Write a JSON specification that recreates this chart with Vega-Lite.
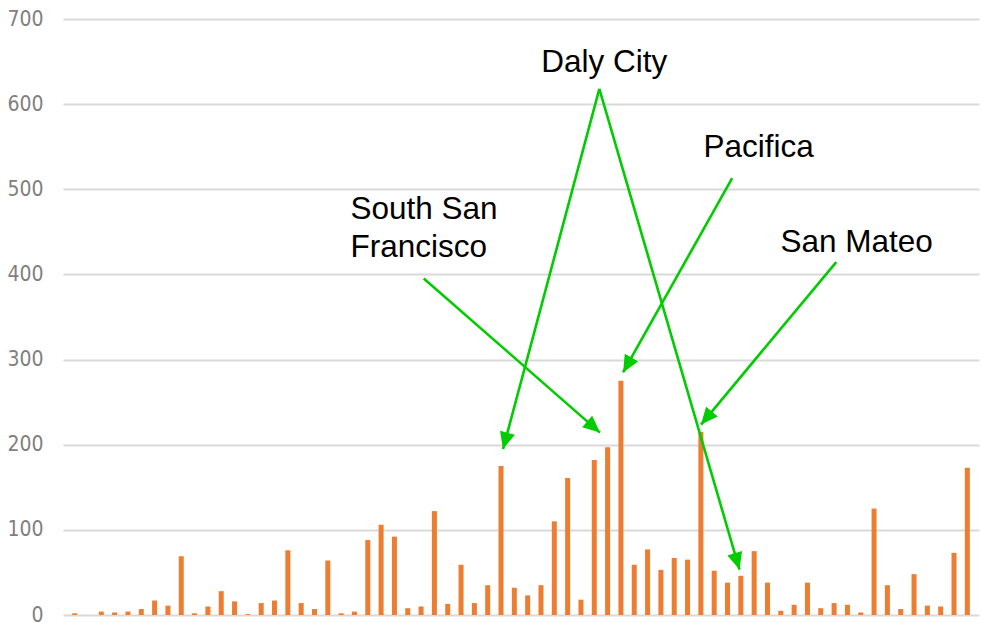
{
  "$schema": "https://vega.github.io/schema/vega-lite/v6.json",
  "width": 916,
  "height": 596,
  "autosize": {"type": "none"},
  "padding": {"left": 63, "top": 19, "right": 4, "bottom": 8},
  "background": "white",
  "config": {"view": {"stroke": null}},
  "datasets": {
    "bars": [
      {"i":1,"v":2},{"i":2,"v":0},{"i":3,"v":4},{"i":4,"v":3},{"i":5,"v":4},{"i":6,"v":7},{"i":7,"v":17},{"i":8,"v":11},{"i":9,"v":69},{"i":10,"v":2},
      {"i":11,"v":10},{"i":12,"v":28},{"i":13,"v":16},{"i":14,"v":1},{"i":15,"v":14},{"i":16,"v":17},{"i":17,"v":76},{"i":18,"v":14},{"i":19,"v":7},{"i":20,"v":64},
      {"i":21,"v":2},{"i":22,"v":4},{"i":23,"v":88},{"i":24,"v":106},{"i":25,"v":92},{"i":26,"v":8},{"i":27,"v":10},{"i":28,"v":122},{"i":29,"v":13},{"i":30,"v":59},
      {"i":31,"v":14},{"i":32,"v":35},{"i":33,"v":175},{"i":34,"v":32},{"i":35,"v":23},{"i":36,"v":35},{"i":37,"v":110},{"i":38,"v":161},{"i":39,"v":18},{"i":40,"v":182},
      {"i":41,"v":197},{"i":42,"v":275},{"i":43,"v":59},{"i":44,"v":77},{"i":45,"v":53},{"i":46,"v":67},{"i":47,"v":65},{"i":48,"v":215},{"i":49,"v":52},{"i":50,"v":38},
      {"i":51,"v":46},{"i":52,"v":75},{"i":53,"v":38},{"i":54,"v":5},{"i":55,"v":12},{"i":56,"v":38},{"i":57,"v":8},{"i":58,"v":14},{"i":59,"v":12},{"i":60,"v":3},
      {"i":61,"v":125},{"i":62,"v":35},{"i":63,"v":7},{"i":64,"v":48},{"i":65,"v":11},{"i":66,"v":10},{"i":67,"v":73},{"i":68,"v":173}
    ],
    "arrows": [
      {"name":"Daly City L","x1":40.38,"y1":617.9,"x2":33.15,"y2":194.8},
      {"name":"Daly City R","x1":40.38,"y1":617.9,"x2":50.90,"y2":53.4},
      {"name":"Pacifica","x1":50.35,"y1":513.1,"x2":42.16,"y2":284.9},
      {"name":"South San Francisco","x1":27.20,"y1":395.3,"x2":40.43,"y2":214.2},
      {"name":"San Mateo","x1":58.16,"y1":414.5,"x2":48.01,"y2":223.6}
    ],
    "centerLabels": [
      {"text":"Daly City","x":40.75,"y":638.2},
      {"text":"Pacifica","x":52.34,"y":538.4},
      {"text":"San Mateo","x":59.69,"y":425.8}
    ],
    "leftLabels": [
      {"text":"South San","x":21.7,"y":465.0},
      {"text":"Francisco","x":21.7,"y":420.4}
    ]
  },
  "layer": [
    {
      "data": {"name": "bars"},
      "mark": {"type": "bar", "width": 5, "color": "#ED7D31"},
      "encoding": {
        "x": {"field": "i", "type": "quantitative", "scale": {"domain": [0.5, 68.5], "nice": false, "zero": false}, "axis": null},
        "y": {"field": "v", "type": "quantitative", "scale": {"domain": [0, 700], "nice": false},
          "axis": {"values": [0,100,200,300,400,500,600,700], "grid": true, "gridColor": "#d9d9d9", "gridWidth": 2,
            "domain": false, "ticks": false, "labelPadding": 20, "labelFont": "DejaVu Sans Condensed",
            "labelFontSize": 21, "labelColor": "#7f7f7f", "title": null}}
      }
    },
    {
      "data": {"name": "arrows"},
      "mark": {"type": "rule", "color": "#00cc00", "strokeWidth": 2.6},
      "encoding": {
        "x": {"field": "x1", "type": "quantitative"},
        "y": {"field": "y1", "type": "quantitative"},
        "x2": {"field": "x2"},
        "y2": {"field": "y2"}
      }
    },
    {
      "data": {"name": "arrows"},
      "transform": [{"filter": "datum.name == 'Daly City L'"}],
      "mark": {"type": "point", "shape": "M0,0L0.45,1L-0.45,1Z", "size": 1156, "filled": true, "opacity": 1, "color": "#00cc00", "angle": 195.1},
      "encoding": {"x": {"field": "x2", "type": "quantitative"}, "y": {"field": "y2", "type": "quantitative"}}
    },
    {
      "data": {"name": "arrows"},
      "transform": [{"filter": "datum.name == 'Daly City R'"}],
      "mark": {"type": "point", "shape": "M0,0L0.45,1L-0.45,1Z", "size": 1156, "filled": true, "opacity": 1, "color": "#00cc00", "angle": 163.6},
      "encoding": {"x": {"field": "x2", "type": "quantitative"}, "y": {"field": "y2", "type": "quantitative"}}
    },
    {
      "data": {"name": "arrows"},
      "transform": [{"filter": "datum.name == 'Pacifica'"}],
      "mark": {"type": "point", "shape": "M0,0L0.45,1L-0.45,1Z", "size": 1156, "filled": true, "opacity": 1, "color": "#00cc00", "angle": 209.6},
      "encoding": {"x": {"field": "x2", "type": "quantitative"}, "y": {"field": "y2", "type": "quantitative"}}
    },
    {
      "data": {"name": "arrows"},
      "transform": [{"filter": "datum.name == 'South San Francisco'"}],
      "mark": {"type": "point", "shape": "M0,0L0.45,1L-0.45,1Z", "size": 1156, "filled": true, "opacity": 1, "color": "#00cc00", "angle": 130.9},
      "encoding": {"x": {"field": "x2", "type": "quantitative"}, "y": {"field": "y2", "type": "quantitative"}}
    },
    {
      "data": {"name": "arrows"},
      "transform": [{"filter": "datum.name == 'San Mateo'"}],
      "mark": {"type": "point", "shape": "M0,0L0.45,1L-0.45,1Z", "size": 1156, "filled": true, "opacity": 1, "color": "#00cc00", "angle": 220},
      "encoding": {"x": {"field": "x2", "type": "quantitative"}, "y": {"field": "y2", "type": "quantitative"}}
    },
    {
      "data": {"name": "centerLabels"},
      "mark": {"type": "text", "font": "Liberation Sans, Arial, sans-serif", "fontSize": 31.5, "color": "black", "align": "center", "baseline": "alphabetic"},
      "encoding": {
        "x": {"field": "x", "type": "quantitative"},
        "y": {"field": "y", "type": "quantitative"},
        "text": {"field": "text"}
      }
    },
    {
      "data": {"name": "leftLabels"},
      "mark": {"type": "text", "font": "Liberation Sans, Arial, sans-serif", "fontSize": 31.5, "color": "black", "align": "left", "baseline": "alphabetic"},
      "encoding": {
        "x": {"field": "x", "type": "quantitative"},
        "y": {"field": "y", "type": "quantitative"},
        "text": {"field": "text"}
      }
    }
  ]
}
